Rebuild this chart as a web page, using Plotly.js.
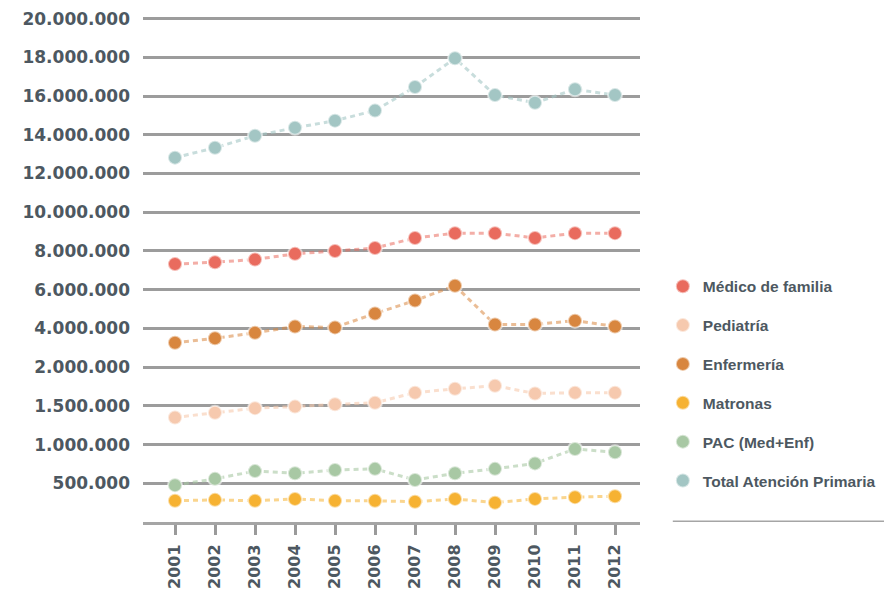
<!DOCTYPE html>
<html>
<head>
<meta charset="utf-8">
<script src="https://cdn.plot.ly/plotly-3.0.1.min.js"></script>
<style>
  html, body { margin: 0; padding: 0; background: #ffffff; }
  #chart { width: 884px; height: 592px; }
</style>
</head>
<body>
<div id="chart"></div>
<script>
const years = [2001, 2002, 2003, 2004, 2005, 2006, 2007, 2008, 2009, 2010, 2011, 2012];

const medicoFamilia = [7320000, 7420000, 7560000, 7850000, 8000000, 8150000, 8670000, 8920000, 8920000, 8670000, 8920000, 8920000];
const pediatria     = [1350000, 1410000, 1470000, 1490000, 1520000, 1540000, 1670000, 1720000, 1760000, 1660000, 1670000, 1670000];
const enfermeria    = [3260000, 3490000, 3770000, 4100000, 4050000, 4770000, 5440000, 6200000, 4200000, 4200000, 4400000, 4100000];
const matronas      = [274000, 286000, 274000, 298000, 274000, 274000, 262000, 298000, 250000, 298000, 321000, 333000];
const pac           = [476000, 557000, 657000, 629000, 671000, 686000, 543000, 629000, 686000, 757000, 943000, 900000];
const totalAP       = [12820000, 13330000, 13950000, 14360000, 14730000, 15250000, 16470000, 17950000, 16050000, 15650000, 16350000, 16050000];

const seriesNames = ['Médico de familia', 'Pediatría', 'Enfermería', 'Matronas', 'PAC (Med+Enf)', 'Total Atención Primaria'];
const seriesColors = ['#e96b5e', '#f6c9ae', '#d8863f', '#f6b232', '#a8c8a4', '#a3c6c4'];
const lineColors = ['rgba(233,107,94,0.55)', 'rgba(246,201,174,0.6)', 'rgba(216,134,63,0.55)', 'rgba(246,178,50,0.55)', 'rgba(168,200,164,0.6)', 'rgba(163,198,196,0.6)'];

const yTickValues = [500000, 1000000, 1500000, 2000000, 4000000, 6000000, 8000000, 10000000, 12000000, 14000000, 16000000, 18000000, 20000000];
const yTickLabels = ['500.000', '1.000.000', '1.500.000', '2.000.000', '4.000.000', '6.000.000', '8.000.000', '10.000.000', '12.000.000', '14.000.000', '16.000.000', '18.000.000', '20.000.000'];

// The original chart uses evenly spaced gridlines for uneven values:
// map each value onto that piecewise scale, built from the tick values.
const breaks = [0].concat(yTickValues);
function toAxis(v) {
  for (let i = 0; i < breaks.length - 1; i++) {
    if (v <= breaks[i + 1]) return i + (v - breaks[i]) / (breaks[i + 1] - breaks[i]);
  }
  return breaks.length - 1;
}
const tickPositions = yTickValues.map(toAxis);

const allSeries = [medicoFamilia, pediatria, enfermeria, matronas, pac, totalAP];
const traces = [];
allSeries.forEach((vals, i) => {
  traces.push({
    x: years, y: vals.map(toAxis), customdata: vals,
    mode: 'lines', showlegend: false, hoverinfo: 'skip',
    line: { color: lineColors[i], width: 3, dash: '5px,4px' },
    legendgroup: 'g' + i
  });
});
allSeries.forEach((vals, i) => {
  traces.push({
    x: years, y: vals.map(toAxis), customdata: vals,
    name: seriesNames[i], mode: 'markers',
    legendgroup: 'g' + i,
    hovertemplate: '%{x}: %{customdata:,.0f}<extra>' + seriesNames[i] + '</extra>',
    marker: { color: seriesColors[i], size: 14, line: { color: 'rgba(255,255,255,0.55)', width: 2 } }
  });
});

const layout = {
  width: 884, height: 592,
  margin: { l: 143, r: 244, t: 7, b: 70, autoexpand: false },
  paper_bgcolor: '#ffffff', plot_bgcolor: '#ffffff',
  showlegend: true,
  font: { family: 'DejaVu Sans, sans-serif', color: '#4d5861' },
  xaxis: {
    range: [2000.2, 2012.625],
    tickmode: 'array', tickvals: years, ticktext: years.map(String),
    tickangle: -90,
    ticks: 'outside', ticklen: 10, tickwidth: 3, tickcolor: '#9a9a9a',
    ticklabelstandoff: 3,
    showline: true, linecolor: '#a5a5a5', linewidth: 3,
    showgrid: false, zeroline: false, automargin: false,
    tickfont: { family: 'DejaVu Sans, sans-serif', size: 16, color: '#4d5861', weight: 'bold' }
  },
  yaxis: {
    range: [0, 13.3],
    tickmode: 'array', tickvals: tickPositions, ticktext: yTickLabels,
    showgrid: true, gridcolor: '#9c9c9c', gridwidth: 3,
    zeroline: false, showline: false, ticks: '', automargin: false,
    ticklabelstandoff: 12,
    tickfont: { family: 'DejaVu Sans, sans-serif', size: 17, color: '#4d5861', weight: 'bold' }
  },
  legend: {
    x: 1.046, xanchor: 'left', y: 0.49, yanchor: 'top',
    tracegroupgap: 15.7,
    font: { family: 'Liberation Sans, Arial, sans-serif', size: 15.5, color: '#4d5861', weight: 'bold' },
    bgcolor: 'rgba(0,0,0,0)', borderwidth: 0
  },
  shapes: [{
    type: 'line', xref: 'paper', yref: 'y',
    x0: 1.066, x1: 1.495, y0: 0, y1: 0,
    line: { color: '#a5a5a5', width: 3 }
  }]
};

Plotly.newPlot('chart', traces, layout, { displayModeBar: false, responsive: false });
</script>
</body>
</html>
